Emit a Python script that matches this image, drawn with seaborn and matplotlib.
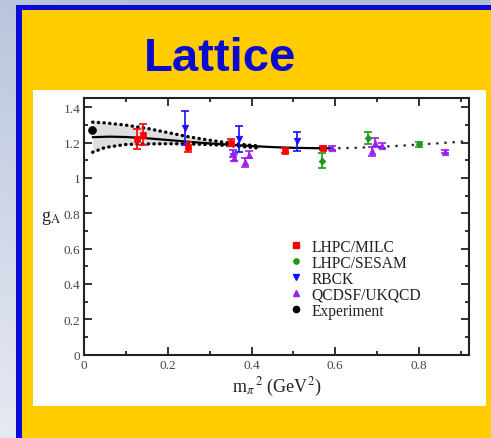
import numpy as np
import pandas as pd
import matplotlib
matplotlib.use("Agg")
import matplotlib.pyplot as plt
from matplotlib.patches import Rectangle
from matplotlib.lines import Line2D
import seaborn as sns

# ---------------- data ----------------
milc_x = [0.125, 0.140, 0.249, 0.352, 0.480, 0.570]
milc_y = [1.220, 1.245, 1.174, 1.198, 1.153, 1.170]
milc_e = [0.056, 0.057, 0.030, 0.020, 0.015, 0.010]

sesam_x = [0.569, 0.678, 0.801]
sesam_y = [1.098, 1.225, 1.190]
sesam_e = [0.040, 0.033, 0.015]

rbck_x = [0.242, 0.371, 0.508]
rbck_y = [1.281, 1.221, 1.206]
rbck_e = [0.097, 0.072, 0.053]

qcdsf_x = [0.356, 0.357, 0.384, 0.394, 0.592, 0.689, 0.695, 0.711, 0.863]
qcdsf_y = [1.140, 1.115, 1.089, 1.132, 1.168, 1.151, 1.200, 1.183, 1.149]
qcdsf_e = [0.020, 0.020, 0.025, 0.020, 0.010, 0.025, 0.025, 0.012, 0.010]

exp_x = [0.0175]
exp_y = [1.270]

fit_x = [0.02, 0.06, 0.10, 0.15, 0.20, 0.25, 0.30, 0.35, 0.40, 0.45, 0.50, 0.55, 0.59]
fit_y = [1.230, 1.233, 1.231, 1.224, 1.214, 1.204, 1.195, 1.187, 1.180, 1.174, 1.170, 1.168, 1.167]

ext_x = [0.59, 0.65, 0.70, 0.75, 0.80, 0.85, 0.92]
ext_y = [1.167, 1.170, 1.175, 1.181, 1.188, 1.196, 1.208]

band_x = [0.02, 0.05, 0.10, 0.15, 0.20, 0.25, 0.30, 0.35, 0.40, 0.42]
band_hi = [1.315, 1.311, 1.298, 1.280, 1.256, 1.232, 1.213, 1.196, 1.184, 1.180]
band_lo = [1.145, 1.172, 1.189, 1.192, 1.193, 1.192, 1.188, 1.182, 1.172, 1.168]

groups = ["LHPC/MILC", "LHPC/SESAM", "RBCK", "QCDSF/UKQCD", "Experiment"]
colors = ["#ff0000", "#1a9a1a", "#1010ff", "#9a22ee", "#000000"]
markers = ["s", "D", "v", "^", "o"]
sizes = [16, 12, 22, 22, 32]

x_ticks = [0, 0.2, 0.4, 0.6, 0.8]
x_ticklabels = ["0", "0.2", "0.4", "0.6", "0.8"]
y_ticks = [0, 0.2, 0.4, 0.6, 0.8, 1.0, 1.2, 1.4]
y_ticklabels = ["0", "0.2", "0.4", "0.6", "0.8", "1", "1.2", "1.4"]

title = "Lattice"

# ---------------- style ----------------
sns.set_theme(style="ticks")
plt.rcParams["font.family"] = ["Liberation Serif", "DejaVu Serif"]
plt.rcParams["mathtext.fontset"] = "stix"

W, H = 491, 439
fig = plt.figure(figsize=(W / 100, H / 100), dpi=100)

# ---------------- slide background ----------------
bg = fig.add_axes([0, 0, 1, 1], zorder=-5)
bg.set_xlim(0, W)
bg.set_ylim(0, H)
bg.axis("off")
gx = np.linspace(0, 1, 200)[None, :]
gy = np.linspace(0, 1, 200)[:, None]
t = np.clip(0.55 * gx + 0.85 * gy, 0, 1)
light = np.array([0.905, 0.918, 0.950])
dark = np.array([0.700, 0.745, 0.850])
img = light[None, None, :] * (1 - t[..., None]) + dark[None, None, :] * t[..., None]
bg.imshow(img, extent=[0, W, H, 0], origin="upper", aspect="auto", zorder=0)
bg.set_ylim(0, H)
bg.add_patch(Rectangle((16, 0), W, H - 5.5, facecolor="#0a0ad8", edgecolor="none", zorder=1))
bg.add_patch(Rectangle((22, 0), W, H - 10.5, facecolor="#ffcc00", edgecolor="none", zorder=2))
bg.add_patch(Rectangle((33, H - 407), 486 - 33, 407 - 91, facecolor="white", edgecolor="none", zorder=3))
bg.text(220, H - 59, title, color="#0a0ad0", fontsize=34, fontweight="bold",
        family=["Liberation Sans", "DejaVu Sans"], ha="center", va="center", zorder=4)

# ---------------- chart ----------------
ax = fig.add_axes([84.3 / W, (H - 355.7) / H, (469 - 84.3) / W, (355.7 - 99.3) / H])
ax.set_facecolor("white")

ax.fill_between(band_x, band_lo, band_hi, color="#dedede", linewidth=0, zorder=1)
ax.plot(band_x, band_hi, color="black", linestyle=(0, (0.1, 1.6)), linewidth=2.4,
        dash_capstyle="round", zorder=2)
ax.plot(band_x, band_lo, color="black", linestyle=(0, (0.1, 1.6)), linewidth=2.4,
        dash_capstyle="round", zorder=2)
sns.lineplot(x=fit_x, y=fit_y, color="black", linewidth=1.6, ax=ax, zorder=3, sort=False)
ax.plot(ext_x, ext_y, color="#333333", linestyle=(0, (0.1, 3.0)), linewidth=1.9,
        dash_capstyle="round", zorder=3)

series = [(milc_x, milc_y, milc_e), (sesam_x, sesam_y, sesam_e),
          (rbck_x, rbck_y, rbck_e), (qcdsf_x, qcdsf_y, qcdsf_e)]
rows = []
for g, (xs, ys, es), c in zip(groups[:4], series, colors[:4]):
    ax.errorbar(xs, ys, yerr=es, fmt="none", ecolor=c, elinewidth=1.2,
                capsize=2.6, capthick=1.2, zorder=4)
    for xv, yv in zip(xs, ys):
        rows.append((g, xv, yv))
for xv, yv in zip(exp_x, exp_y):
    rows.append(("Experiment", xv, yv))
df = pd.DataFrame(rows, columns=["group", "x", "y"])

for g, c, m, s in zip(groups, colors, markers, sizes):
    sub = df[df["group"] == g]
    sns.scatterplot(data=sub, x="x", y="y", color=c, marker=m, s=s,
                    edgecolor=c, linewidth=0.5, ax=ax, zorder=5, legend=False)

ax.set_xlim(0, 0.92)
ax.set_ylim(0, 1.45)
ax.set_xticks(x_ticks)
ax.set_xticklabels(x_ticklabels)
ax.set_yticks(y_ticks)
ax.set_yticklabels(y_ticklabels)
ax.set_xticks(np.arange(0.1, 0.92, 0.2), minor=True)
ax.set_yticks(np.arange(0.1, 1.45, 0.2), minor=True)
ax.tick_params(which="both", direction="in", top=True, right=True,
               color="#222222", width=1.3)
ax.tick_params(which="major", length=5.5, labelsize=9.5, labelcolor="#444444", pad=3)
ax.tick_params(which="minor", length=3)
for sp in ax.spines.values():
    sp.set_visible(True)
    sp.set_linewidth(1.5)
    sp.set_color("#222222")

ax.set_xlabel(r"m$_{\pi}$$^{\,2}$ (GeV$^{2}$)", fontsize=13, color="#222222", labelpad=3)
ax.set_ylabel(r"g$_{\rm A}$", fontsize=13, color="#222222", rotation=0, labelpad=4)
ax.yaxis.set_label_coords(-0.085, 0.5)

handles = [Line2D([], [], linestyle="none", marker=m, color=c, markersize=ms)
           for m, c, ms in zip(["s", "o", "v", "^", "o"], colors, [4, 3.8, 4.5, 4.5, 4.5])]
ax.legend(handles, groups, loc="upper left", bbox_to_anchor=(0.533, 0.452),
          frameon=False, fontsize=11.2, handlelength=0.8, handletextpad=0.6,
          labelspacing=0.0, borderaxespad=0, borderpad=0, labelcolor="#222222")

fig.savefig("out.png", dpi=100)
